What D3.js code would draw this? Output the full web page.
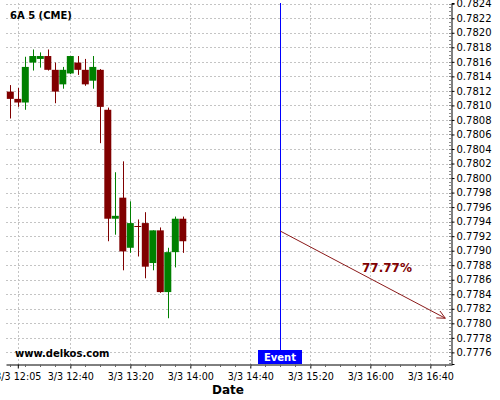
<!DOCTYPE html>
<html><head><meta charset="utf-8">
<script src="https://cdn.jsdelivr.net/npm/d3@7"></script>
<style>body{margin:0;background:#fff;} svg{display:block;font-family:"DejaVu Sans",sans-serif;}</style>
</head><body><svg id="c" width="500" height="400"></svg>
<script>
const title = "6A 5 (CME)";
const times = ["12:00","12:05","12:10","12:15","12:20","12:25","12:30","12:35","12:40","12:45","12:50","12:55",
               "13:00","13:05","13:10","13:15","13:20","13:25","13:30","13:35","13:40","13:45","13:50","13:55"];
const opens  = [0.78119,0.78109,0.78104,0.78159,0.78164,0.78168,0.78149,0.78129,0.78144,0.78159,0.78149,0.78134,
                0.78149,0.78094,0.77944,0.77973,0.77904,0.77934,0.77938,0.77883,0.77928,0.77843,0.77898,0.77944];
const highs  = [0.78128,0.78124,0.78167,0.78177,0.78173,0.78177,0.78159,0.78153,0.78168,0.78168,0.78164,0.78168,
                0.78150,0.78097,0.78008,0.78023,0.77968,0.77943,0.77953,0.77928,0.77932,0.77904,0.77947,0.77947];
const lows   = [0.78082,0.78098,0.78094,0.78148,0.78152,0.78148,0.78103,0.78123,0.78143,0.78142,0.78127,0.78123,
                0.78048,0.77913,0.77922,0.77873,0.77897,0.77892,0.77862,0.77873,0.77842,0.77807,0.77877,0.77897];
const closes = [0.78109,0.78104,0.78153,0.78168,0.78168,0.78149,0.78119,0.78149,0.78168,0.78149,0.78129,0.78153,
                0.78098,0.77944,0.77948,0.77899,0.77938,0.77933,0.77878,0.77928,0.77843,0.77898,0.77944,0.77913];
const xTickTimes = ["12:05","12:40","13:20","14:00","14:40","15:20","16:00","16:40"];
const yTickValues = d3.range(0, 25).map(i => +(0.7776 + i * 0.0002).toFixed(4));
const eventTime = "15:00";
const eventLabel = "Event";
const arrowStart = {time: "15:00", value: 0.77927};
const arrowEnd = {time: "16:50", value: 0.77807};
const arrowLabel = "77.77%";
const xLabel = "Date";
const watermark = "www.delkos.com";

const parse = s => { const [h, m] = s.split(":").map(Number); return new Date(2015, 2, 3, h, m, 0); };
const svg = d3.select("#c");
const L = 6, R = 452, T = 3, B = 364;

const x = d3.scaleTime()
  .domain([new Date(2015, 2, 3, 11, 57, 8), new Date(2015, 2, 3, 16, 54, 28)])
  .range([L, R]);
const y = d3.scaleLinear().domain([0.77744, 0.78241]).range([B, T]);

// grid
const grid = svg.append("g").attr("stroke", "#c4c4c4").attr("stroke-dasharray", "2,2").attr("stroke-width", 1);
yTickValues.forEach(v => {
  const yy = Math.round(y(v)) + 0.5;
  grid.append("line").attr("x1", L).attr("x2", R).attr("y1", yy).attr("y2", yy);
});
xTickTimes.forEach(t => {
  const xx = Math.round(x(parse(t))) + 0.5;
  grid.append("line").attr("x1", xx).attr("x2", xx).attr("y1", T).attr("y2", B);
});

// candles
const step = x(parse("12:05")) - x(parse("12:00"));
const bw = step * 0.93;
const cg = svg.append("g");
times.forEach((t, i) => {
  const cx = x(parse(t));
  const up = closes[i] >= opens[i];
  const col = up ? "#008000" : "#800000";
  cg.append("line").attr("x1", Math.round(cx) + 0.5).attr("x2", Math.round(cx) + 0.5)
    .attr("y1", y(highs[i])).attr("y2", y(lows[i])).attr("stroke", col).attr("stroke-width", 1);
  const top = y(Math.max(opens[i], closes[i]));
  const bot = y(Math.min(opens[i], closes[i]));
  cg.append("rect").attr("x", cx - bw / 2).attr("y", top).attr("width", bw)
    .attr("height", Math.max(1, bot - top)).attr("fill", col);
});

// event line
const ex = Math.round(x(parse(eventTime))) + 0.5;
svg.append("line").attr("x1", ex).attr("x2", ex).attr("y1", T).attr("y2", B)
  .attr("stroke", "#0000ff").attr("stroke-width", 1);

// arrow
const ax1 = x(parse(arrowStart.time)), ay1 = y(arrowStart.value);
const ax2 = x(parse(arrowEnd.time)), ay2 = y(arrowEnd.value);
const ac = "#8b1a1a";
svg.append("line").attr("x1", ax1).attr("y1", ay1).attr("x2", ax2).attr("y2", ay2)
  .attr("stroke", ac).attr("stroke-width", 1);
const ang = Math.atan2(ay2 - ay1, ax2 - ax1);
const hl = 9, ha = 0.45;
svg.append("path")
  .attr("d", `M${ax2 - hl * Math.cos(ang - ha)},${ay2 - hl * Math.sin(ang - ha)} L${ax2},${ay2} L${ax2 - hl * Math.cos(ang + ha)},${ay2 - hl * Math.sin(ang + ha)}`)
  .attr("fill", "none").attr("stroke", ac).attr("stroke-width", 1);
svg.append("text").attr("x", 362).attr("y", 272).attr("font-size", 12).attr("font-weight", "bold")
  .attr("fill", "#800000").text(arrowLabel);

// axes
const fmt = d3.timeFormat("%-m/%-d %H:%M");
const xAxis = svg.append("g").attr("transform", `translate(0,${B + 0.5})`)
  .call(d3.axisBottom(x).tickValues(xTickTimes.map(parse)).tickFormat(fmt).tickSize(4).tickSizeOuter(0).tickPadding(5));
xAxis.selectAll("text").attr("font-size", 9.6).attr("font-family", "DejaVu Sans").attr("fill", "#000");
xAxis.select(".domain").attr("stroke", "#000");
// minor x ticks
const minorX = d3.timeMinute.every(10).range(x.domain()[0], x.domain()[1]);
svg.append("g").selectAll("line").data(minorX).join("line")
  .attr("x1", d => Math.round(x(d)) + 0.5).attr("x2", d => Math.round(x(d)) + 0.5)
  .attr("y1", B + 0.5).attr("y2", B + 3).attr("stroke", "#666");

const yAxis = svg.append("g").attr("transform", `translate(${R - 0.5},0)`)
  .call(d3.axisRight(y).tickValues(yTickValues).tickFormat(d3.format(".4f")).tickSize(3).tickSizeOuter(3).tickPadding(2));
yAxis.selectAll("text").attr("font-size", 10).attr("font-family", "DejaVu Sans").attr("fill", "#000");
yAxis.select(".domain").attr("stroke", "#000");
// minor y ticks
const minorY = d3.range(0, 100).map(i => 0.77745 + i * 0.00005).filter(v => v <= 0.7824);
svg.append("g").selectAll("line").data(minorY).join("line")
  .attr("x1", R - 3).attr("x2", R - 0.5)
  .attr("y1", d => Math.round(y(d)) + 0.5).attr("y2", d => Math.round(y(d)) + 0.5).attr("stroke", "#888");

// texts
svg.append("text").attr("x", 10).attr("y", 19).attr("font-size", 10).attr("font-weight", "bold").text(title);
svg.append("text").attr("x", 15).attr("y", 357).attr("font-size", 10).attr("font-weight", "bold").text(watermark);
svg.append("text").attr("x", 228).attr("y", 394).attr("text-anchor", "middle").attr("font-size", 12)
  .attr("font-weight", "bold").text(xLabel);

// event box
svg.append("rect").attr("x", 258).attr("y", 350).attr("width", 44).attr("height", 14).attr("fill", "#0000ff");
svg.append("text").attr("x", 280).attr("y", 360.5).attr("text-anchor", "middle").attr("font-size", 10)
  .attr("font-weight", "bold").attr("fill", "#fff").text(eventLabel);
</script></body></html>
